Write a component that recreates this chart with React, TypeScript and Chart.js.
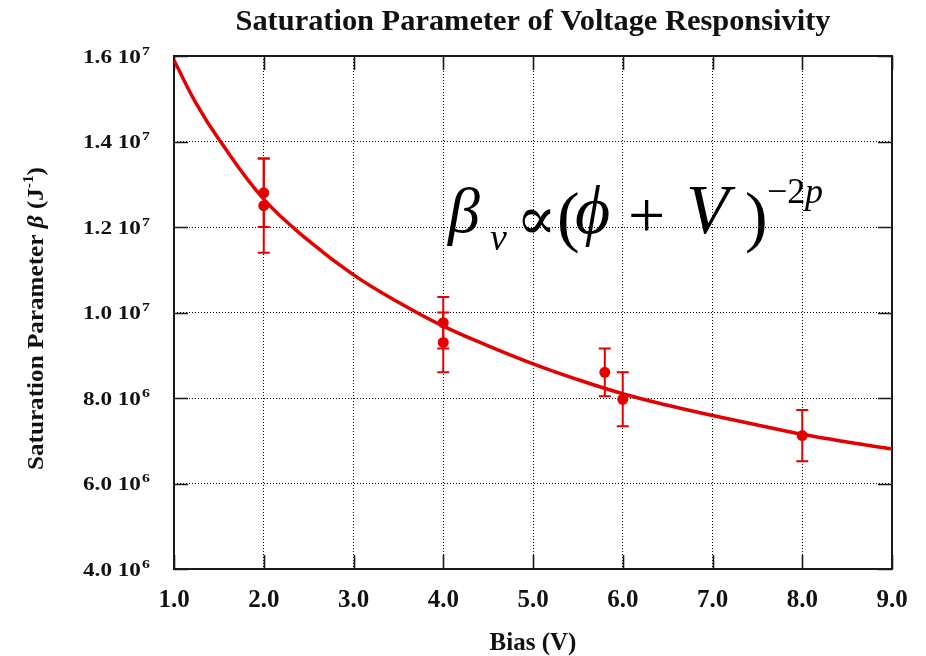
import React, { useEffect, useRef } from "react";
import { Chart, registerables } from "chart.js";

Chart.register(...registerables);

// ---- data ----
const TITLE = "Saturation Parameter of Voltage Responsivity";
const X_TITLE = "Bias (V)";
const Y_TITLE = "Saturation Parameter ";

const X_MIN = 1;
const X_MAX = 9;
const X_STEP = 1;
const Y_MIN = 4.0e6;
const Y_MAX = 1.6e7;
const Y_STEP = 2.0e6;

// fitted curve
const fitBias = [1, 1.25, 1.5, 2, 2.5, 3, 3.5, 4, 4.5, 5, 5.5, 6, 6.5, 7, 7.5, 8, 8.5, 9];
const fitBeta = [
  1.59e7, 1.488e7, 1.405e7, 1.265e7, 1.168e7, 1.088e7, 1.024e7, 9.68e6, 9.22e6,
  8.8e6, 8.43e6, 8.1e6, 7.83e6, 7.59e6, 7.37e6, 7.15e6, 6.97e6, 6.81e6,
];

// measured points with error bars
const measBias = [2, 2, 4, 4, 5.8, 6, 8];
const measBeta = [1.28e7, 1.25e7, 9.76e6, 9.3e6, 8.6e6, 7.97e6, 7.12e6];
const measErr = [0.8e6, 1.1e6, 0.6e6, 0.7e6, 0.56e6, 0.63e6, 0.6e6];

const RED = "rgb(228,0,0)";
const SERIF = '"Liberation Serif", "DejaVu Serif", serif';

const textPlugin = {
  id: "customDecor",
  beforeDatasetsDraw(chart: any) {
    const ctx = chart.ctx as CanvasRenderingContext2D;
    const { left, right, top, bottom } = chart.chartArea;
    const xs = chart.scales.x;
    const ys = chart.scales.y;
    ctx.save();
    ctx.strokeStyle = "#1a1a1a";
    ctx.lineWidth = 1.6;
    const tl = 14;
    ctx.beginPath();
    xs.ticks.forEach((t: any) => {
      const px = Math.round(xs.getPixelForValue(t.value)) + 0.5;
      ctx.moveTo(px, bottom);
      ctx.lineTo(px, bottom - tl);
      ctx.moveTo(px, top);
      ctx.lineTo(px, top + tl);
    });
    ys.ticks.forEach((t: any) => {
      const py = Math.round(ys.getPixelForValue(t.value)) + 0.5;
      ctx.moveTo(left, py);
      ctx.lineTo(left + tl, py);
      ctx.moveTo(right, py);
      ctx.lineTo(right - tl, py);
    });
    ctx.stroke();
    ctx.lineWidth = 2;
    ctx.strokeRect(left, top, right - left, bottom - top);
    ctx.restore();
  },
  afterDatasetsDraw(chart: any) {
    const ctx = chart.ctx as CanvasRenderingContext2D;
    const xs = chart.scales.x;
    const ys = chart.scales.y;
    ctx.save();
    ctx.strokeStyle = RED;
    ctx.lineWidth = 2;
    const cap = 6;
    measBias.forEach((b, i) => {
      const px = xs.getPixelForValue(b);
      const pTop = ys.getPixelForValue(measBeta[i] + measErr[i]);
      const pBot = ys.getPixelForValue(measBeta[i] - measErr[i]);
      ctx.beginPath();
      ctx.moveTo(px, pTop);
      ctx.lineTo(px, pBot);
      ctx.moveTo(px - cap, pTop);
      ctx.lineTo(px + cap, pTop);
      ctx.moveTo(px - cap, pBot);
      ctx.lineTo(px + cap, pBot);
      ctx.stroke();
    });
    ctx.restore();
  },
  afterDraw(chart: any) {
    const ctx = chart.ctx as CanvasRenderingContext2D;
    const { left, right, bottom } = chart.chartArea;
    const xs = chart.scales.x;
    const ys = chart.scales.y;
    ctx.save();
    ctx.fillStyle = "#111";
    ctx.textBaseline = "alphabetic";

    // title, fitted to its width in the reference
    ctx.font = `bold 30px ${SERIF}`;
    {
      const w = ctx.measureText(TITLE).width;
      const target = 595;
      const sx = target / w;
      ctx.save();
      ctx.translate((left + right) / 2 - target / 2, 30);
      ctx.scale(sx, 1);
      ctx.textAlign = "left";
      ctx.fillText(TITLE, 0, 0);
      ctx.restore();
    }

    // x tick labels
    ctx.font = `bold 25px ${SERIF}`;
    ctx.textAlign = "center";
    xs.ticks.forEach((t: any) => {
      const px = xs.getPixelForValue(t.value);
      ctx.fillText(Number(t.value).toFixed(1), px, bottom + 38);
    });

    // y tick labels: "m.m 10^e"
    ctx.textAlign = "left";
    const sxTick = 1.22;
    ys.ticks.forEach((t: any) => {
      const v = t.value;
      const e = Math.floor(Math.log10(v) + 1e-9);
      const m = (v / Math.pow(10, e)).toFixed(1);
      const main = `${m} 10`;
      const py = ys.getPixelForValue(v);
      ctx.font = `bold 19px ${SERIF}`;
      const w = ctx.measureText(main).width * sxTick;
      ctx.save();
      ctx.translate(83, py + 6.5);
      ctx.scale(sxTick, 1);
      ctx.fillText(main, 0, 0);
      ctx.restore();
      ctx.font = `bold 13px ${SERIF}`;
      ctx.save();
      ctx.translate(83 + w + 1, py - 1.5);
      ctx.scale(sxTick, 1);
      ctx.fillText(String(e), 0, 0);
      ctx.restore();
    });

    // x axis title
    ctx.font = `bold 25px ${SERIF}`;
    ctx.textAlign = "center";
    ctx.fillText(X_TITLE, (left + right) / 2, 650);

    // y axis title (rotated)
    {
      const pieces = [
        { t: Y_TITLE, f: `bold 23px ${SERIF}`, dy: 0 },
        { t: "\u03b2", f: `italic bold 23px ${SERIF}`, dy: 0 },
        { t: " (J", f: `bold 23px ${SERIF}`, dy: 0 },
        { t: "-1", f: `bold 14px ${SERIF}`, dy: -10 },
        { t: ")", f: `bold 23px ${SERIF}`, dy: 0 },
      ];
      let total = 0;
      const widths = pieces.map((p) => {
        ctx.font = p.f;
        const w = ctx.measureText(p.t).width;
        total += w;
        return w;
      });
      const target = 303;
      ctx.save();
      ctx.translate(43, 470);
      ctx.rotate(-Math.PI / 2);
      ctx.scale(target / total, 1);
      ctx.textAlign = "left";
      let x = 0;
      pieces.forEach((p, i) => {
        ctx.font = p.f;
        ctx.fillText(p.t, x, p.dy);
        x += widths[i];
      });
      ctx.restore();
    }

    // formula annotation
    ctx.fillStyle = "#000";
    ctx.textAlign = "left";
    const put = (t: string, f: string, x: number, y: number) => {
      ctx.font = f;
      ctx.fillText(t, x, y);
    };
    put("\u03b2", `italic 64px ${SERIF}`, 448, 232);
    put("\u03bd", `italic 38px ${SERIF}`, 490, 250);
    put("\u221d", `60px ${SERIF}`, 516, 239);
    put("(", `68px ${SERIF}`, 557, 239);
    put("\u03d5", `italic 68px ${SERIF}`, 575, 233);
    put("+", `66px ${SERIF}`, 628, 237);
    put("V", `italic 70px ${SERIF}`, 686, 233);
    put(")", `68px ${SERIF}`, 745, 239);
    put("\u22122", `36px ${SERIF}`, 767, 203);
    put("p", `italic 36px ${SERIF}`, 805, 203);

    ctx.restore();
  },
};

export default function App() {
  const ref = useRef<HTMLCanvasElement | null>(null);

  useEffect(() => {
    const canvas = ref.current;
    if (!canvas) return;
    document.body.style.margin = "0";
    const chart = new Chart(canvas, {
      type: "scatter",
      data: {
        datasets: [
          {
            label: "fit",
            data: fitBias.map((b, i) => ({ x: b, y: fitBeta[i] })),
            showLine: true,
            borderColor: RED,
            backgroundColor: RED,
            borderWidth: 3.5,
            pointRadius: 0,
            tension: 0.4,
            order: 2,
          },
          {
            label: "measured",
            data: measBias.map((b, i) => ({ x: b, y: measBeta[i] })),
            showLine: false,
            borderColor: RED,
            backgroundColor: RED,
            pointRadius: 5.5,
            pointBorderWidth: 0,
            order: 1,
          },
        ],
      },
      options: {
        responsive: false,
        maintainAspectRatio: false,
        animation: false,
        layout: { padding: { left: 174, top: 56, right: 34, bottom: 87 } },
        plugins: {
          legend: { display: false },
          title: { display: false },
          tooltip: { enabled: false },
        },
        scales: {
          x: {
            type: "linear",
            min: X_MIN,
            max: X_MAX,
            ticks: { stepSize: X_STEP, display: false },
            grid: { color: "#000", lineWidth: 1, drawTicks: false },
            border: { display: false, dash: [1, 2] },
            afterFit: (s: any) => {
              s.height = 0;
            },
          },
          y: {
            type: "linear",
            min: Y_MIN,
            max: Y_MAX,
            ticks: { stepSize: Y_STEP, display: false },
            grid: { color: "#000", lineWidth: 1, drawTicks: false },
            border: { display: false, dash: [1, 2] },
            afterFit: (s: any) => {
              s.width = 0;
            },
          },
        },
      } as any,
      plugins: [textPlugin],
    });
    return () => chart.destroy();
  }, []);

  return (
    <div style={{ position: "absolute", left: 0, top: 0, width: 926, height: 656, background: "#fff" }}>
      <canvas ref={ref} width={926} height={656} />
    </div>
  );
}
